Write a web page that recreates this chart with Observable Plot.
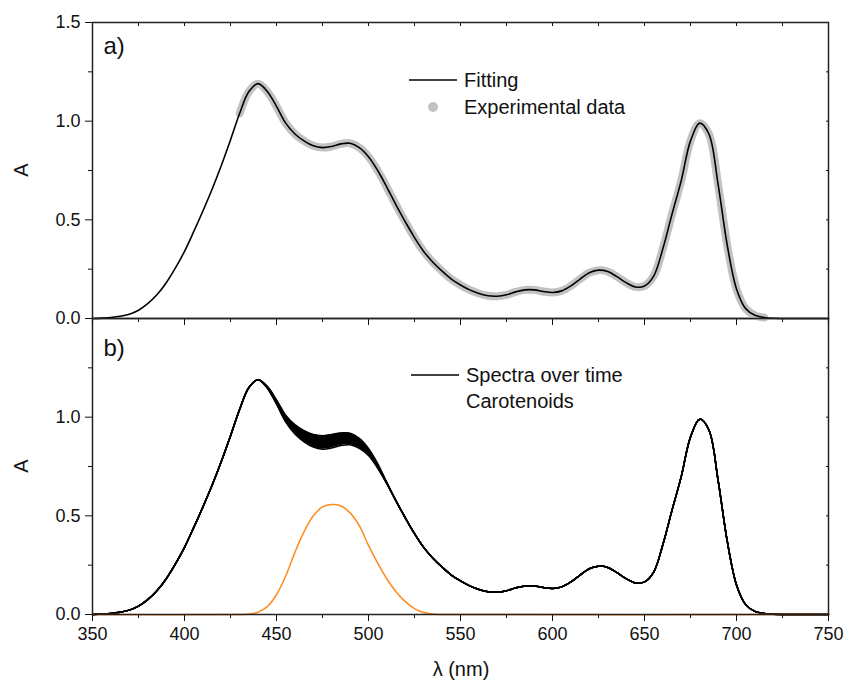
<!DOCTYPE html>
<html><head><meta charset="utf-8">
<script src="https://cdn.jsdelivr.net/npm/d3@7"></script>
<script src="https://cdn.jsdelivr.net/npm/@observablehq/plot@0.6"></script>
<style>
body{margin:0;background:#fff;}
#wrap{position:relative;width:859px;height:683px;font-family:"Liberation Sans",Arial,sans-serif;color:#111;overflow:hidden;}
#wrap svg{position:absolute;left:0;}
</style></head><body><div id="wrap"></div>
<script>
// ---------- data ----------
const wavelengths = d3.range(350, 751, 5); // nm grid, 5 nm step
// Panel a: fitted absorbance
const fitA = [0.000,0.002,0.005,0.011,0.022,0.042,0.075,0.120,0.180,0.255,
  0.340,0.440,0.545,0.655,0.775,0.905,1.040,1.150,1.190,1.150,
  1.075,0.990,0.935,0.900,0.875,0.866,0.872,0.885,0.888,0.866,
  0.820,0.750,0.665,0.575,0.490,0.410,0.340,0.285,0.240,0.200,
  0.170,0.145,0.127,0.115,0.113,0.120,0.135,0.145,0.145,0.137,
  0.132,0.140,0.165,0.200,0.232,0.245,0.238,0.212,0.182,0.160,
  0.165,0.215,0.355,0.530,0.700,0.900,0.990,0.935,0.680,0.370,
  0.150,0.050,0.016,0.005,0.001,0,0,0,0,0,0];
// Panel a: experimental data (430-715 nm)
const expWl = d3.range(430, 716, 5);
const expA = [1.040,1.150,1.190,1.150,1.075,0.990,0.935,0.900,0.875,0.866,
  0.872,0.885,0.888,0.866,0.820,0.750,0.665,0.575,0.490,0.410,
  0.340,0.285,0.240,0.200,0.170,0.145,0.127,0.115,0.113,0.120,
  0.135,0.145,0.145,0.137,0.132,0.140,0.165,0.200,0.232,0.245,
  0.238,0.212,0.182,0.160,0.165,0.215,0.355,0.530,0.700,0.900,
  0.990,0.935,0.680,0.370,0.150,0.050,0.016,0.005];
// Panel b: common part of the spectra over time
const specBase = [0.000,0.002,0.005,0.011,0.022,0.042,0.075,0.120,0.180,0.255,
  0.340,0.440,0.545,0.655,0.775,0.905,1.040,1.150,1.190,1.150,
  1.075,0.990,0.935,0.900,0.875,0.866,0.872,0.885,0.888,0.866,
  0.820,0.750,0.665,0.575,0.490,0.410,0.340,0.285,0.240,0.200,
  0.170,0.145,0.127,0.115,0.113,0.120,0.135,0.145,0.145,0.137,
  0.132,0.140,0.165,0.200,0.232,0.245,0.238,0.212,0.182,0.160,
  0.165,0.215,0.355,0.530,0.700,0.900,0.990,0.935,0.680,0.370,
  0.150,0.050,0.016,0.005,0.001,0,0,0,0,0,0];
// Panel b: region where the spectra differ over time (first = earliest/top, last = latest/bottom)
const bandWl = [445,450,455,460,465,470,475,480,485,490,495,500,505,510];
const spectraBand = [
  [1.156,1.088,1.010,0.962,0.932,0.912,0.906,0.912,0.920,0.918,0.893,0.842,0.765,0.668],
  [1.154,1.083,1.002,0.952,0.920,0.899,0.893,0.899,0.907,0.906,0.882,0.834,0.760,0.667],
  [1.152,1.079,0.995,0.942,0.908,0.886,0.879,0.885,0.894,0.895,0.872,0.827,0.755,0.666],
  [1.150,1.075,0.988,0.933,0.897,0.873,0.865,0.871,0.881,0.883,0.862,0.820,0.751,0.665],
  [1.148,1.070,0.981,0.924,0.886,0.860,0.851,0.857,0.868,0.871,0.852,0.813,0.746,0.663],
  [1.146,1.066,0.975,0.915,0.875,0.848,0.838,0.844,0.856,0.860,0.842,0.806,0.741,0.662]
];
// Panel b: carotenoid component
const caroWl = [350,430,435,440,445,450,455,460,465,470,475,480,485,490,495,500,505,510,515,520,525,530,535,540,750];
const caroA  = [0,0,0.002,0.012,0.040,0.100,0.195,0.315,0.420,0.500,0.545,0.557,0.550,0.515,0.450,0.350,0.260,0.180,0.115,0.065,0.030,0.010,0.002,0,0];
// ticks
const xMajor = [350,400,450,500,550,600,650,700,750];
const xMinor = [375,425,475,525,575,625,675,725];
const yMajorA = [0,0.5,1.0,1.5];
const yMajorB = [0,0.5,1.0];
const yMinor = [0.25,0.75,1.25];

// ---------- tables ----------
const fitData = wavelengths.map((w,i)=>({w, a: fitA[i]}));
const expData = expWl.map((w,i)=>({w, a: expA[i]}));
const spectraData = [];
spectraBand.forEach((band, k) => {
  wavelengths.forEach((w,i) => {
    const j = bandWl.indexOf(w);
    spectraData.push({k, w, a: j >= 0 ? band[j] : specBase[i]});
  });
});
const first = spectraBand[0], last = spectraBand[spectraBand.length - 1];
const bandArea = bandWl.map((w,j)=>({w, hi: first[j], lo: last[j]}));
const caroData = caroWl.map((w,i)=>({w, a: caroA[i]}));

const FONT = "Liberation Sans, Arial, sans-serif";
function axes(yMajor){
  const none = () => "";
  return [
    Plot.axisY({ticks: yMajor, tickSize: 7, tickPadding: 5, tickFormat: d3.format(".1f"), fontSize: 18, label: null}),
    Plot.axisY({ticks: yMinor, tickSize: 4, tickFormat: none, label: null}),
    Plot.axisY({anchor: "right", ticks: yMajorA.concat(yMinor), tickSize: -3, tickFormat: none, label: null}),
    Plot.axisX({ticks: xMajor, tickSize: 7, tickPadding: 6, tickFormat: yMajor === yMajorB ? d3.format("d") : none, fontSize: 18, label: null}),
    Plot.axisX({ticks: xMinor, tickSize: 4, tickFormat: none, label: null}),
    Plot.axisX({anchor: "top", ticks: xMajor.concat(xMinor), tickSize: -3, tickFormat: none, label: null}),
    Plot.frame({stroke: "#222", strokeWidth: 1.5})
  ];
}
const common = {
  width: 859, marginLeft: 92, marginRight: 31,
  x: {domain: [350, 750]}, y: {domain: [0, 1.5]},
  style: {background: "transparent", overflow: "visible", fontFamily: FONT, fontSize: "18px", color: "#111"}
};

const plotA = Plot.plot({
  ...common, height: 330, marginTop: 22, marginBottom: 12,
  marks: [
    Plot.line(expData, {x: "w", y: "a", stroke: "#c2c2c2", strokeWidth: 8, curve: "catmull-rom", strokeLinecap: "round"}),
    Plot.line(fitData, {x: "w", y: "a", stroke: "#000", strokeWidth: 1.6, curve: "catmull-rom"}),
    ...axes(yMajorA),
    Plot.text(["a)"], {frameAnchor: "top-left", dx: 11, dy: 14, lineAnchor: "top", textAnchor: "start", fontSize: 24, fill: "#111"})
  ]
});
plotA.style.top = "0px";

const plotB = Plot.plot({
  ...common, height: 387, marginTop: 22, marginBottom: 69,
  marks: [
    Plot.areaY(bandArea, {x: "w", y1: "lo", y2: "hi", fill: "#000", curve: "catmull-rom"}),
    Plot.line(spectraData, {x: "w", y: "a", z: "k", stroke: "#000", strokeWidth: 1.5, curve: "catmull-rom"}),
    Plot.line(caroData, {x: "w", y: "a", stroke: "#ff8a1c", strokeWidth: 1.5, curve: "catmull-rom"}),
    ...axes(yMajorB),
    Plot.text(["b)"], {frameAnchor: "top-left", dx: 11, dy: 20, lineAnchor: "top", textAnchor: "start", fontSize: 24, fill: "#111"})
  ]
});
plotB.style.top = "296px";

const wrap = document.getElementById("wrap");
wrap.appendChild(plotB);
wrap.appendChild(plotA);

// overlay: legends and axis titles
const ov = d3.select(wrap).append("svg").attr("width", 859).attr("height", 683)
  .style("top", "0px").style("pointer-events", "none")
  .style("font-family", FONT).attr("fill", "#111");
ov.append("line").attr("x1", 409).attr("x2", 457).attr("y1", 80).attr("y2", 80).attr("stroke", "#000").attr("stroke-width", 1.6);
ov.append("text").attr("x", 464).attr("y", 87).attr("font-size", 20).text("Fitting");
ov.append("circle").attr("cx", 433).attr("cy", 107).attr("r", 5).attr("fill", "#c2c2c2");
ov.append("text").attr("x", 464).attr("y", 114).attr("font-size", 20).text("Experimental data");
ov.append("line").attr("x1", 411).attr("x2", 459).attr("y1", 375).attr("y2", 375).attr("stroke", "#000").attr("stroke-width", 1.6);
ov.append("text").attr("x", 466).attr("y", 382).attr("font-size", 20).text("Spectra over time");
ov.append("text").attr("x", 466).attr("y", 408).attr("font-size", 20).text("Carotenoids");
ov.append("text").attr("transform", "translate(28,170) rotate(-90)").attr("text-anchor", "middle").attr("font-size", 20).text("A");
ov.append("text").attr("transform", "translate(28,466) rotate(-90)").attr("text-anchor", "middle").attr("font-size", 20).text("A");
ov.append("text").attr("x", 461).attr("y", 676).attr("text-anchor", "middle").attr("font-size", 20).text("λ (nm)");
</script></body></html>
